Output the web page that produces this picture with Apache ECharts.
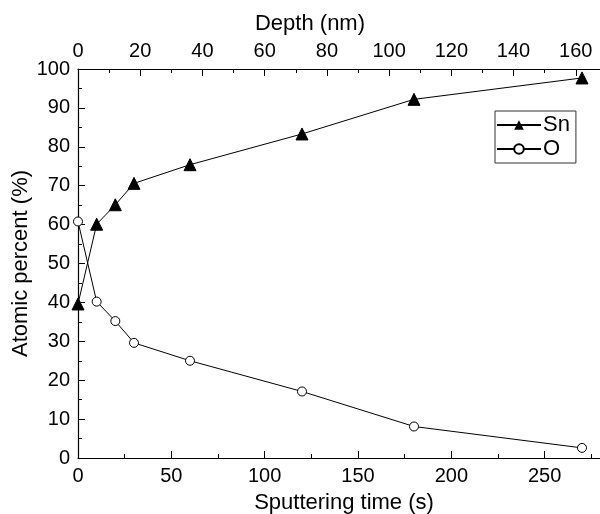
<!DOCTYPE html>
<html lang="en">
<head>
    <meta charset="UTF-8">
    <title>Sn / O depth profile</title>
    <script src="https://cdn.jsdelivr.net/npm/echarts@6/dist/echarts.min.js"></script>
    <style>
        body { margin: 0; padding: 0; background: #fff; }
    </style>
</head>
<body>
    <div id="chart" style="width: 600px; height: 514px;"></div>
    <script>
        var times = [0, 10, 20, 30, 60, 120, 180, 270];
        var snValues = [39.6, 60.1, 65.1, 70.6, 75.4, 83.3, 92.2, 97.7];
        var oValues = [60.8, 40.2, 35.2, 29.6, 25.0, 17.1, 8.1, 2.6];

        var chart = echarts.init(document.getElementById("chart"));
        var font = "Liberation Sans, Arial, sans-serif";

        function pairs(vals) {
            return times.map(function (t, i) { return [t, vals[i]]; });
        }

        var axisCommon = {
            axisLine: { show: true, onZero: false, lineStyle: { color: "#000", width: 1.2 } },
            axisTick: { show: true, inside: true, length: 7, lineStyle: { color: "#000" } },
            minorTick: { show: true, splitNumber: 2, length: 4, lineStyle: { color: "#000" } },
            splitLine: { show: false },
            axisLabel: { color: "#000", fontSize: 20, fontFamily: font, margin: 8 },
            nameTextStyle: { color: "#000", fontSize: 22, fontFamily: font },
            nameMoveOverlap: false
        };

        var options = {
            animation: false,
            backgroundColor: "#fff",
            grid: { left: 78, top: 69, right: -10, bottom: 56, containLabel: false, outerBoundsMode: "none" },
            legend: {
                orient: "vertical",
                left: 495,
                top: 111,
                padding: [3, 6, 3, 1],
                itemGap: 2,
                itemWidth: 44,
                itemHeight: 12,
                borderColor: "#333",
                borderWidth: 1,
                borderRadius: 0,
                textStyle: { color: "#000", fontSize: 22, fontFamily: font, padding: [0, 0, 0, -3] },
                data: ["Sn", "O"]
            },
            xAxis: [
                Object.assign({}, axisCommon, {
                    type: "value",
                    position: "bottom",
                    min: 0,
                    max: 285,
                    interval: 50,
                    name: "Sputtering time (s)",
                    nameLocation: "middle",
                    nameGap: 34,
                    axisLabel: Object.assign({}, axisCommon.axisLabel, {
                        showMaxLabel: false
                    })
                }),
                Object.assign({}, axisCommon, {
                    type: "value",
                    position: "top",
                    min: 0,
                    max: 171,
                    interval: 20,
                    name: "Depth (nm)",
                    nameLocation: "middle",
                    nameGap: 34,
                    nameTextStyle: Object.assign({}, axisCommon.nameTextStyle, {
                        padding: [0, 68, 0, 0]
                    }),
                    axisLabel: Object.assign({}, axisCommon.axisLabel, {
                        showMaxLabel: false
                    })
                })
            ],
            yAxis: Object.assign({}, axisCommon, {
                type: "value",
                min: 0,
                max: 100,
                interval: 10,
                name: "Atomic percent (%)",
                nameLocation: "middle",
                nameGap: 46
            }),
            series: [
                {
                    name: "Sn",
                    type: "line",
                    xAxisIndex: 0,
                    data: pairs(snValues),
                    symbol: "triangle",
                    symbolSize: 12,
                    lineStyle: { color: "#000", width: 1 },
                    itemStyle: { color: "#000", borderColor: "#000" }
                },
                {
                    name: "O",
                    type: "line",
                    xAxisIndex: 0,
                    data: pairs(oValues),
                    symbol: "circle",
                    symbolSize: 9,
                    lineStyle: { color: "#000", width: 1 },
                    itemStyle: { color: "#fff", borderColor: "#000", borderWidth: 1 }
                }
            ]
        };
        chart.setOption(options);
    </script>
</body>
</html>
